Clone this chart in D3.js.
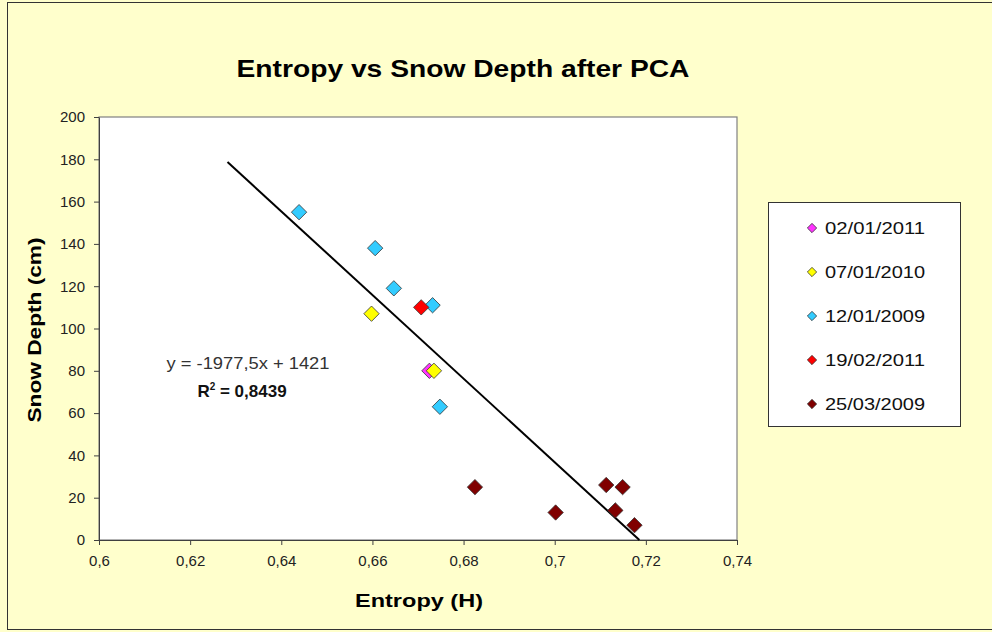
<!DOCTYPE html>
<html>
<head>
<meta charset="utf-8">
<script src="https://cdn.jsdelivr.net/npm/d3@7"></script>
<style>
  body { margin: 0; background: #ffffcc; }
  text { font-family: "Liberation Sans", Arial, sans-serif; }
</style>
</head>
<body>
<svg id="svg" width="992" height="632"></svg>
<script>
// series data
var seriesNames = ["02/01/2011", "07/01/2010", "12/01/2009", "19/02/2011", "25/03/2009"];
var seriesColors = ["#ff33ff", "#ffff00", "#33ccff", "#ff0000", "#800000"];

var entropy0201_2011 = [0.6725];
var depth0201_2011 = [80];
var entropy0701_2010 = [0.6598, 0.6735];
var depth0701_2010 = [107, 80];
var entropy1201_2009 = [0.6439, 0.6606, 0.6647, 0.6732, 0.6748];
var depth1201_2009 = [155, 138, 119, 111, 63];
var entropy1902_2011 = [0.6707];
var depth1902_2011 = [110];
var entropy2503_2009 = [0.6825, 0.7002, 0.7113, 0.7149, 0.7133, 0.7175];
var depth2503_2009 = [25, 13, 26, 25, 14, 7];

var xTicks = [0.6, 0.62, 0.64, 0.66, 0.68, 0.7, 0.72, 0.74];
var yTicks = [0, 20, 40, 60, 80, 100, 120, 140, 160, 180, 200];

// trend line y = -1977,5x + 1421
var slope = -1977.5, intercept = 1421;
var trendX = [0.6282, 0.71858];

var allX = [entropy0201_2011, entropy0701_2010, entropy1201_2009, entropy1902_2011, entropy2503_2009];
var allY = [depth0201_2011, depth0701_2010, depth1201_2009, depth1902_2011, depth2503_2009];

var svg = d3.select("#svg");
var pLeft = 99, pRight = 737, pTop = 117, pBottom = 540;

svg.append("rect").attr("x", 7.5).attr("y", 2.5).attr("width", 992).attr("height", 627)
    .style("fill", "#ffffcc").style("stroke", "#333").style("stroke-width", 1);

var x = d3.scaleLinear().domain([0.6, 0.74]).range([pLeft, pRight]);
var y = d3.scaleLinear().domain([0, 200]).range([pBottom, pTop]);

svg.append("rect").attr("x", pLeft).attr("y", pTop).attr("width", pRight - pLeft).attr("height", pBottom - pTop)
    .style("fill", "#fff").style("stroke", "#808080").style("stroke-width", 1.2);

var xAxis = d3.axisBottom(x).tickValues(xTicks).tickSizeInner(5).tickSizeOuter(0).tickPadding(10)
    .tickFormat(function (d) { return String(+d.toFixed(2)).replace(".", ","); });
var yAxis = d3.axisLeft(y).tickValues(yTicks).tickSizeInner(5).tickSizeOuter(0).tickPadding(9);

svg.append("g").attr("class", "x axis").attr("transform", "translate(0," + pBottom + ")").call(xAxis);
svg.append("g").attr("class", "y axis").attr("transform", "translate(" + pLeft + ",0)").call(yAxis);
svg.selectAll(".axis .domain").style("stroke", "#404040");
svg.selectAll(".axis .tick line").style("stroke", "#404040");
svg.selectAll(".axis .tick text")
    .style("font-family", "'Liberation Sans', Arial, sans-serif")
    .style("font-size", "15px").style("fill", "#222");

// trend line
svg.append("line")
    .attr("x1", x(trendX[0])).attr("y1", y(slope * trendX[0] + intercept))
    .attr("x2", x(trendX[1])).attr("y2", y(slope * trendX[1] + intercept))
    .style("stroke", "#000").style("stroke-width", 2);

var diamond = d3.symbol().type(d3.symbolDiamond2).size(150);
seriesNames.forEach(function (name, i) {
    var pts = allX[i].map(function (v, j) { return [v, allY[i][j]]; });
    svg.append("g").selectAll("path").data(pts).enter().append("path")
        .attr("d", diamond)
        .attr("transform", function (d) { return "translate(" + x(d[0]) + "," + y(d[1]) + ")"; })
        .style("fill", seriesColors[i]).style("stroke", "#333").style("stroke-width", 0.8);
});

// equation
svg.append("text").attr("x", 248).attr("y", 369).attr("text-anchor", "middle")
    .attr("textLength", 163).attr("lengthAdjust", "spacingAndGlyphs")
    .style("font-size", "16px").style("fill", "#333").text("y = -1977,5x +  1421");
var r2 = svg.append("text").attr("x", 242).attr("y", 397).attr("text-anchor", "middle")
    .style("font-size", "17px").style("font-weight", "bold").style("fill", "#111");
r2.append("tspan").text("R");
r2.append("tspan").attr("dy", -7).style("font-size", "10px").text("2");
r2.append("tspan").attr("dy", 7).text(" = 0,8439");

// titles
svg.append("text").attr("x", 463).attr("y", 77).attr("text-anchor", "middle")
    .attr("textLength", 453).attr("lengthAdjust", "spacingAndGlyphs")
    .style("font-size", "24px").style("font-weight", "bold").text("Entropy vs Snow Depth after PCA");
svg.append("text").attr("x", 419).attr("y", 607).attr("text-anchor", "middle")
    .attr("textLength", 128).attr("lengthAdjust", "spacingAndGlyphs")
    .style("font-size", "19px").style("font-weight", "bold").text("Entropy (H)");
svg.append("text").attr("transform", "translate(41,330) rotate(-90)").attr("text-anchor", "middle")
    .attr("textLength", 185).attr("lengthAdjust", "spacingAndGlyphs")
    .style("font-size", "19px").style("font-weight", "bold").text("Snow Depth (cm)");

// legend
var legend = svg.append("g");
legend.append("rect").attr("x", 768.5).attr("y", 202.5).attr("width", 192).attr("height", 224)
    .style("fill", "#fff").style("stroke", "#333").style("stroke-width", 1);
var items = legend.selectAll(".item").data(seriesNames).enter().append("g")
    .attr("transform", function (d, i) { return "translate(812," + (228 + i * 44) + ")"; });
items.append("path").attr("d", d3.symbol().type(d3.symbolDiamond2).size(55))
    .style("fill", function (d, i) { return seriesColors[i]; })
    .style("stroke", "#333").style("stroke-width", 0.8);
items.append("text").attr("x", 13).attr("dy", "0.36em")
    .attr("textLength", 100).attr("lengthAdjust", "spacingAndGlyphs")
    .style("font-size", "17px").style("fill", "#111").text(function (d) { return d; });
</script>
</body>
</html>
